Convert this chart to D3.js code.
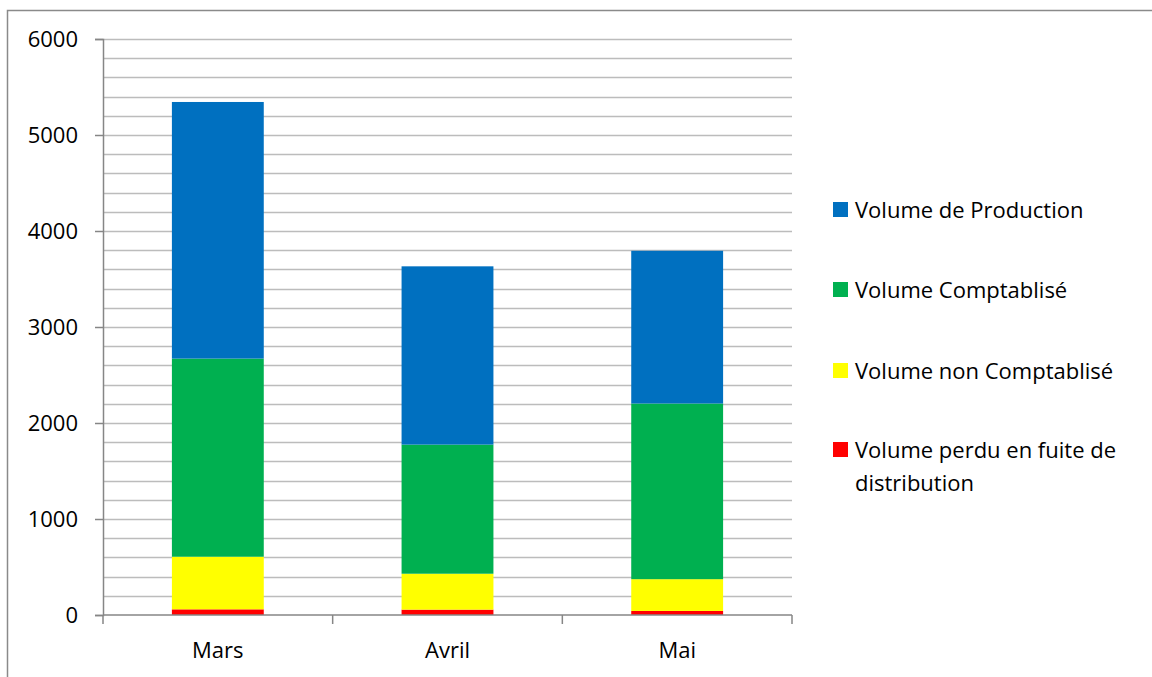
<!DOCTYPE html>
<html>
<head>
<meta charset="utf-8">
<script src="https://cdn.jsdelivr.net/npm/d3@7"></script>
<style>
  body { margin: 0; background: #fff; }
  svg text { font-family: "Open Sans", Lato, sans-serif; fill: #000; }
</style>
</head>
<body>
<svg id="chart" width="1152" height="677"></svg>
<script>
// Chart data
const months = ['Mars', 'Avril', 'Mai'];
const perdu = [59, 56, 42];
const nonComptabilise = [548, 374, 331];
const comptabilise = [2064, 1345, 1830];
const production = [2673, 1857, 1591];

const seriesNames = ['Volume perdu en fuite de distribution', 'Volume non Comptablisé', 'Volume Comptablisé', 'Volume de Production'];
const seriesColors = ['#FF0000', '#FFFF00', '#00B050', '#0070C0'];
const yTicks = [0, 1000, 2000, 3000, 4000, 5000, 6000];

// build rows for d3.stack
const rows = months.map((m, i) => ({
    month: m,
    s0: perdu[i],
    s1: nonComptabilise[i],
    s2: comptabilise[i],
    s3: production[i]
}));

const svg = d3.select('#chart');

// outer frame
svg.append('rect')
    .attr('x', 7.5).attr('y', 10.5)
    .attr('width', 1200).attr('height', 700)
    .attr('fill', 'none')
    .attr('stroke', '#8a8a8a')
    .attr('stroke-width', 1.5);

const plotLeft = 103, plotRight = 792, plotTop = 39, plotBottom = 615;
const fontSize = '22px';

const x = d3.scaleBand()
    .domain(months)
    .range([plotLeft, plotRight])
    .paddingInner(0.6)
    .paddingOuter(0.3);

const y = d3.scaleLinear()
    .domain([0, 6000])
    .range([plotBottom, plotTop]);

// minor gridlines every 200
const grid = svg.append('g');
grid.selectAll('line')
    .data(d3.range(200, 6001, 200))
    .enter()
    .append('line')
    .attr('x1', plotLeft).attr('x2', plotRight)
    .attr('y1', d => Math.round(y(d)) + 0.5)
    .attr('y2', d => Math.round(y(d)) + 0.5)
    .attr('stroke', '#bcbcbc')
    .attr('stroke-width', 1.5);

// stacked bars
const stack = d3.stack().keys(['s0', 's1', 's2', 's3']);
const layers = stack(rows);

svg.append('g')
    .selectAll('g')
    .data(layers)
    .enter()
    .append('g')
    .attr('fill', (d, i) => seriesColors[i])
    .selectAll('rect')
    .data(d => d)
    .enter()
    .append('rect')
    .attr('x', d => x(d.data.month))
    .attr('width', x.bandwidth())
    .attr('y', d => y(d[1]))
    .attr('height', d => y(d[0]) - y(d[1]));

// y axis
const yAxis = svg.append('g')
    .attr('transform', `translate(${plotLeft},0)`)
    .call(d3.axisLeft(y).tickValues(yTicks).tickFormat(d3.format('d')).tickSize(8).tickPadding(17));
yAxis.select('.domain').attr('stroke', '#868686').attr('stroke-width', 1.5);
yAxis.selectAll('.tick line').attr('stroke', '#868686').attr('stroke-width', 1.5);
yAxis.selectAll('.tick text').style('font-size', fontSize).attr('dy', '0.35em');

// x axis with ticks at category boundaries
const xAxisG = svg.append('g');
xAxisG.append('line')
    .attr('x1', plotLeft).attr('x2', plotRight)
    .attr('y1', plotBottom).attr('y2', plotBottom)
    .attr('stroke', '#868686').attr('stroke-width', 1.5);
const step = (plotRight - plotLeft) / months.length;
xAxisG.selectAll('.bound')
    .data(d3.range(months.length + 1))
    .enter()
    .append('line')
    .attr('x1', d => plotLeft + d * step).attr('x2', d => plotLeft + d * step)
    .attr('y1', plotBottom).attr('y2', plotBottom + 9)
    .attr('stroke', '#868686').attr('stroke-width', 1.5);
xAxisG.selectAll('text')
    .data(months)
    .enter()
    .append('text')
    .attr('x', d => x(d) + x.bandwidth() / 2)
    .attr('y', 650)
    .attr('dy', '0.35em')
    .attr('text-anchor', 'middle')
    .style('font-size', fontSize)
    .text(d => d);

// legend (reverse order like Excel)
const legendY = [209, 289, 370, 449];
const legendItems = seriesNames.map((n, i) => ({ name: n, color: seriesColors[i] })).reverse();
const legend = svg.append('g');
legendItems.forEach((item, i) => {
    legend.append('rect')
        .attr('x', 833).attr('y', legendY[i] - 7)
        .attr('width', 15).attr('height', 15)
        .attr('fill', item.color);
    const t = legend.append('text')
        .attr('x', 855).attr('y', legendY[i] + 1)
        .attr('dy', '0.35em')
        .style('font-size', fontSize);
    if (item.name.length > 25) {
        t.append('tspan').attr('x', 855).text('Volume perdu en fuite de');
        t.append('tspan').attr('x', 855).attr('dy', '1.5em').text('distribution');
    } else {
        t.text(item.name);
    }
});
</script>
</body>
</html>
